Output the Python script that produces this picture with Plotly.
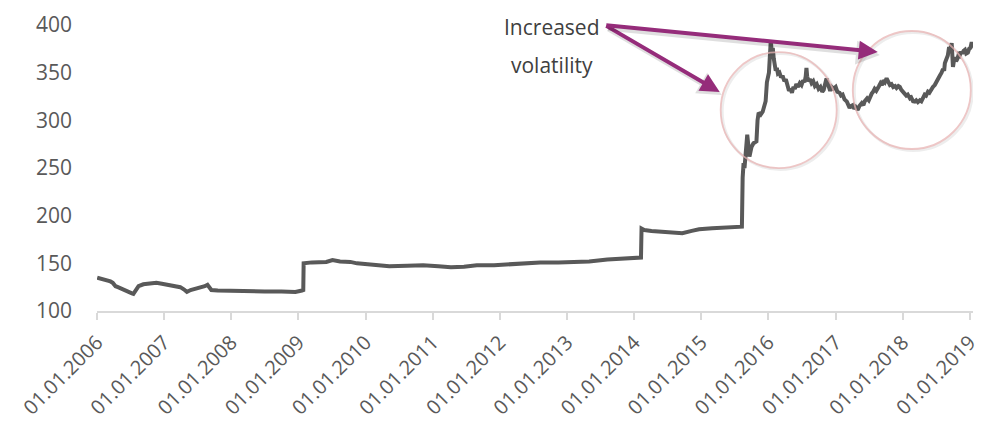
import plotly.graph_objects as go

# Index level, calm period (2006 to mid-2015)
calm_dates = [
    "2006-01-02", "2006-01-25", "2006-02-20", "2006-03-15", "2006-03-28", "2006-04-12",
    "2006-04-25", "2006-05-20", "2006-06-15", "2006-07-10", "2006-07-18", "2006-07-28",
    "2006-08-15", "2006-09-10", "2006-10-15", "2006-11-20", "2006-12-20", "2007-01-20",
    "2007-02-15", "2007-03-10", "2007-03-30", "2007-04-20", "2007-05-05", "2007-05-25",
    "2007-06-25", "2007-07-20", "2007-08-10", "2007-08-25", "2007-09-05", "2007-09-15",
    "2007-10-20", "2007-12-31", "2008-04-01", "2008-07-01", "2008-10-01", "2008-12-15",
    "2009-01-20", "2009-01-27", "2009-01-29", "2009-03-15", "2009-06-01", "2009-07-05",
    "2009-08-15", "2009-10-10", "2009-11-15", "2010-02-01", "2010-05-10", "2010-08-15",
    "2010-11-10", "2011-02-01", "2011-04-10", "2011-06-20", "2011-08-29", "2011-12-01",
    "2012-02-10", "2012-05-20", "2012-08-08", "2012-11-15", "2013-02-03", "2013-05-01",
    "2013-08-08", "2013-11-01", "2014-01-16", "2014-02-07", "2014-02-10", "2014-02-25",
    "2014-04-05", "2014-06-15", "2014-08-01", "2014-09-20", "2014-11-10", "2014-12-20",
    "2015-03-01", "2015-05-15", "2015-08-10",
]
calm_values = [
    135, 134, 132.5, 131, 129.5, 126,
    125, 122.5, 120.5, 118.5, 118, 121,
    126, 128, 129, 129.5, 128.5, 127.5,
    127, 125.5, 125, 122.5, 120, 122,
    123.5, 124, 126, 127.5, 124, 122,
    121.5, 121, 121, 120.5, 120.5, 120,
    121.5, 122, 150, 151, 151.5, 153.5,
    152, 151.5, 150, 149, 147, 147.5,
    148, 147, 146, 146.5, 148, 148,
    149, 149.5, 151, 151, 151.7, 152,
    154, 155, 156, 156, 186.5, 185,
    184, 183, 182, 181.5, 184, 185.7,
    186.7, 187.5, 188.5,
]

# Index level, turbulent period (from August 2015)
volatile_dates = [
    "2015-08-14", "2015-08-19", "2015-08-24", "2015-08-29", "2015-09-08", "2015-09-20",
    "2015-10-01", "2015-10-12", "2015-10-28", "2015-11-03", "2015-11-09", "2015-11-20",
    "2015-12-01", "2015-12-17", "2015-12-24", "2016-01-04", "2016-01-08", "2016-01-14",
    "2016-01-19", "2016-01-25", "2016-01-30", "2016-02-05", "2016-02-10", "2016-02-16",
    "2016-02-22", "2016-03-01", "2016-03-10", "2016-03-18", "2016-03-28", "2016-04-05",
    "2016-04-14", "2016-04-22", "2016-04-30", "2016-05-08", "2016-05-16", "2016-05-24",
    "2016-06-01", "2016-06-10", "2016-06-20", "2016-06-29", "2016-07-08", "2016-07-16",
    "2016-07-22", "2016-07-26", "2016-07-30", "2016-08-07", "2016-08-15", "2016-08-23",
    "2016-09-01", "2016-09-10", "2016-09-20", "2016-09-30", "2016-10-10", "2016-10-20",
    "2016-10-28", "2016-11-06", "2016-11-12", "2016-11-17", "2016-11-24", "2016-12-02",
    "2016-12-10", "2016-12-20", "2017-01-01", "2017-01-10", "2017-01-22", "2017-01-30",
    "2017-02-08", "2017-02-18", "2017-03-03", "2017-03-10", "2017-03-18", "2017-03-25",
    "2017-04-05", "2017-04-12", "2017-04-20", "2017-05-01", "2017-05-10", "2017-05-23",
    "2017-06-01", "2017-06-08", "2017-06-21", "2017-06-30", "2017-07-08", "2017-07-16",
    "2017-07-24", "2017-08-01", "2017-08-10", "2017-08-18", "2017-08-25", "2017-09-02",
    "2017-09-10", "2017-09-18", "2017-09-26", "2017-10-05", "2017-10-12", "2017-10-23",
    "2017-11-01", "2017-11-10", "2017-11-20", "2017-11-28", "2017-12-08", "2017-12-16",
    "2017-12-24", "2018-01-03", "2018-01-12", "2018-01-20", "2018-01-28", "2018-02-09",
    "2018-02-16", "2018-02-26", "2018-03-07", "2018-03-15", "2018-03-24", "2018-04-04",
    "2018-04-12", "2018-04-20", "2018-04-30", "2018-05-08", "2018-05-18", "2018-05-26",
    "2018-06-05", "2018-06-14", "2018-06-24", "2018-07-03", "2018-07-12", "2018-07-22",
    "2018-07-31", "2018-08-08", "2018-08-14", "2018-08-18", "2018-08-26", "2018-09-03",
    "2018-09-10", "2018-09-15", "2018-09-24", "2018-09-28", "2018-10-01", "2018-10-06",
    "2018-10-12", "2018-10-18", "2018-10-24", "2018-11-01", "2018-11-06", "2018-11-14",
    "2018-11-20", "2018-11-28", "2018-12-05", "2018-12-12", "2018-12-21", "2018-12-28",
    "2019-01-04", "2019-01-11", "2019-01-17",
]
volatile_values = [
    240, 255, 250, 262, 285, 262,
    272, 276, 278, 300, 308, 306,
    309, 320, 340, 350, 362, 384,
    372, 376, 365, 358, 352, 355,
    349, 350, 345, 347, 341, 343,
    336, 331, 333, 329, 335, 333,
    338, 335, 339, 337, 342, 340,
    346, 355, 346, 341, 343, 339,
    341, 336, 338, 333, 335, 330,
    332, 339, 344, 340, 334, 331,
    335, 333, 335, 330, 329, 326,
    327, 322, 319.6, 316, 313, 315,
    316, 312, 314, 311, 315, 318,
    316, 320, 323, 321, 326, 328,
    330, 333, 331, 335, 336, 339,
    337, 342, 340, 344, 340, 337,
    338, 335, 336, 334, 336, 335,
    332, 330, 329, 326, 327, 323,
    324, 320, 319.6, 321, 319, 321,
    320, 324, 327, 326, 330, 329,
    333, 335, 337, 341, 343, 347,
    350, 354, 352, 360, 364, 368,
    377, 374, 381, 370, 356, 362,
    366, 362, 364, 369, 368, 372,
    370, 373, 374, 370, 371, 375,
    376, 382, 376,
]

tick_dates = [f"{y}-01-01" for y in range(2006, 2020)]
tick_labels = [f"01.01.{y}" for y in range(2006, 2020)]

callout_lines = ["Increased", "volatility"]

LINE = "#595959"
AXIS = "#D9D9D9"
TEXT = "#595959"
ARROW = "#952C7A"
FONT = "Open Sans"

fig = go.Figure()
fig.add_trace(go.Scatter(
    x=calm_dates + volatile_dates, y=calm_values + volatile_values, mode="lines",
    line=dict(color=LINE, width=4),
    hoverinfo="skip", showlegend=False,
))

# Callout text
for line_text, ypos in zip(callout_lines, [0.993, 0.86]):
    fig.add_annotation(x=0.519, y=ypos, xref="paper", yref="paper", text=line_text,
                       xanchor="center", yanchor="middle", showarrow=False,
                       font=dict(family=FONT, size=21, color="#404040"))

# Arrows from the callout towards the two highlighted periods
tail = ("2013-07-25", 400)
tips = [("2015-04-11", 329.7), ("2017-08-18", 371.7)]
for tx, ty in tips:
    # soft drop shadow
    fig.add_annotation(x=tx, y=ty, ax=tail[0], ay=tail[1], axref="x", ayref="y",
                       xref="x", yref="y", text="", showarrow=True,
                       arrowhead=2, arrowsize=0.95, arrowwidth=5,
                       arrowcolor="rgba(0,0,0,0.12)", xshift=2, yshift=-3)
    fig.add_annotation(x=tx, y=ty, ax=tail[0], ay=tail[1], axref="x", ayref="y",
                       xref="x", yref="y", text="", showarrow=True,
                       arrowhead=2, arrowsize=0.95, arrowwidth=4, arrowcolor=ARROW)

# Highlight circles around the turbulent periods
circles = [("2016-02-26", 310.8, 58), ("2018-02-19", 331.8, 59)]
for cx, cy, r in circles:
    fig.add_shape(type="circle", xref="x", yref="y", xsizemode="pixel", ysizemode="pixel",
                  xanchor=cx, yanchor=cy, x0=-r + 1.5, x1=r + 1.5, y0=-r - 1.5, y1=r - 1.5,
                  line=dict(color="rgba(0,0,0,0.07)", width=3), layer="above")
    fig.add_shape(type="circle", xref="x", yref="y", xsizemode="pixel", ysizemode="pixel",
                  xanchor=cx, yanchor=cy, x0=-r, x1=r, y0=-r, y1=r,
                  line=dict(color="rgba(232,180,180,0.75)", width=1.8), layer="above")

fig.update_xaxes(
    type="date", range=["2006-01-01", "2019-01-18"], automargin=False,
    tickvals=tick_dates, ticktext=tick_labels, tickangle=-45,
    showline=True, linecolor=AXIS, linewidth=1.5,
    ticks="outside", ticklen=7, tickcolor=AXIS, tickwidth=1.5,
    showgrid=False, zeroline=False, ticklabelstandoff=3,
    tickfont=dict(family=FONT, size=20, color=TEXT),
)
fig.update_yaxes(
    range=[100, 400], tickvals=[100, 150, 200, 250, 300, 350, 400],
    showline=False, showgrid=False, zeroline=False, automargin=False,
    ticklabelstandoff=24,
    tickfont=dict(family=FONT, size=21, color=TEXT),
)
fig.update_layout(
    width=985, height=426,
    margin=dict(l=97, r=12, t=25, b=115),
    paper_bgcolor="white", plot_bgcolor="white",
    font=dict(family=FONT),
)

fig.write_html("out.html")
